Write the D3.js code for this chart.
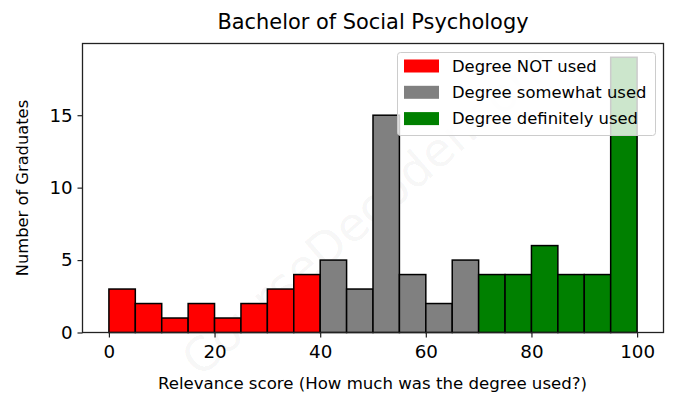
<!DOCTYPE html>
<html><head><meta charset="utf-8">
<script src="https://cdn.jsdelivr.net/npm/d3@7"></script>
<style>body{margin:0;background:#fff}svg{display:block}text{font-family:"DejaVu Sans",sans-serif}</style>
</head><body>
<script>
const binStarts = [0,5,10,15,20,25,30,35,40,45,50,55,60,65,70,75,80,85,90,95];
const counts    = [3,2,1,2,1,2,3,4, 5,3,15,4,2,5, 4,4,6,4,4,19];
const groups    = ["Degree NOT used","Degree somewhat used","Degree definitely used"];
const groupColors = ["#ff0000","#808080","#008000"];
const groupBreaks = [40,70];
const xTicks = [0,20,40,60,80,100];
const yTicks = [0,5,10,15];
const binWidth = 5;

const W=678,H=408;
const svg=d3.select("body").append("svg").attr("width",W).attr("height",H);
const L=82.5,R=663.5,T=43.5,B=332.5;
const x=d3.scaleLinear().domain([-5,105]).range([L,R]);
const y=d3.scaleLinear().domain([0,19.95]).range([B,T]);
const grp=v=>v<groupBreaks[0]?0:(v<groupBreaks[1]?1:2);

// watermark
svg.append("text").attr("x",370).attr("y",214).attr("text-anchor","middle").attr("dominant-baseline","middle")
  .attr("transform","rotate(-41,370,214)").attr("font-size",47).attr("fill","#000").attr("fill-opacity",0.05)
  .text("CourseDecoder.com");

svg.append("g").selectAll("rect").data(binStarts).join("rect")
  .attr("x",d=>x(d)).attr("width",d=>x(d+binWidth)-x(d))
  .attr("y",(d,i)=>y(counts[i])).attr("height",(d,i)=>y(0)-y(counts[i]))
  .attr("fill",d=>groupColors[grp(d)]).attr("stroke","#000").attr("stroke-width",1.5);

// axes
const xa=svg.append("g").attr("transform",`translate(0,${B})`).call(d3.axisBottom(x).tickValues(xTicks).tickSize(5).tickSizeOuter(0));
const ya=svg.append("g").attr("transform",`translate(${L},0)`).call(d3.axisLeft(y).tickValues(yTicks).tickSize(5).tickSizeOuter(0));
[xa,ya].forEach(a=>{a.select(".domain").remove();a.selectAll("line").attr("stroke","#222").attr("stroke-width",1.2);
  a.selectAll("text").attr("font-size",18.3).attr("fill","#000").style("font-family","DejaVu Sans");});
xa.selectAll("text").attr("dy","0.95em");
ya.selectAll("text").attr("dx","-0.1em");

svg.append("rect").attr("x",L).attr("y",T).attr("width",R-L).attr("height",B-T)
  .attr("fill","none").attr("stroke","#222").attr("stroke-width",1.3);

svg.append("text").attr("x",(L+R)/2).attr("y",29).attr("text-anchor","middle").attr("font-size",20.9).text("Bachelor of Social Psychology");
svg.append("text").attr("x",(L+R)/2-0.5).attr("y",389).attr("text-anchor","middle").attr("font-size",16.6).text("Relevance score (How much was the degree used?)");
svg.append("text").attr("transform","translate(28,188) rotate(-90)").attr("text-anchor","middle").attr("font-size",16.3).text("Number of Graduates");

// legend
const lg=svg.append("g");
lg.append("rect").attr("x",397.5).attr("y",52.5).attr("width",258).attr("height",83).attr("rx",3)
  .attr("fill","#fff").attr("fill-opacity",0.8).attr("stroke","#ccc").attr("stroke-width",1);
groups.forEach((g,i)=>{
  const yy=66+i*26.3;
  lg.append("rect").attr("x",404).attr("y",yy-6.5).attr("width",35).attr("height",13).attr("fill",groupColors[i]);
  lg.append("text").attr("x",452).attr("y",yy).attr("dy","0.35em").attr("font-size",16.4).text(g);
});
</script>
</body></html>
